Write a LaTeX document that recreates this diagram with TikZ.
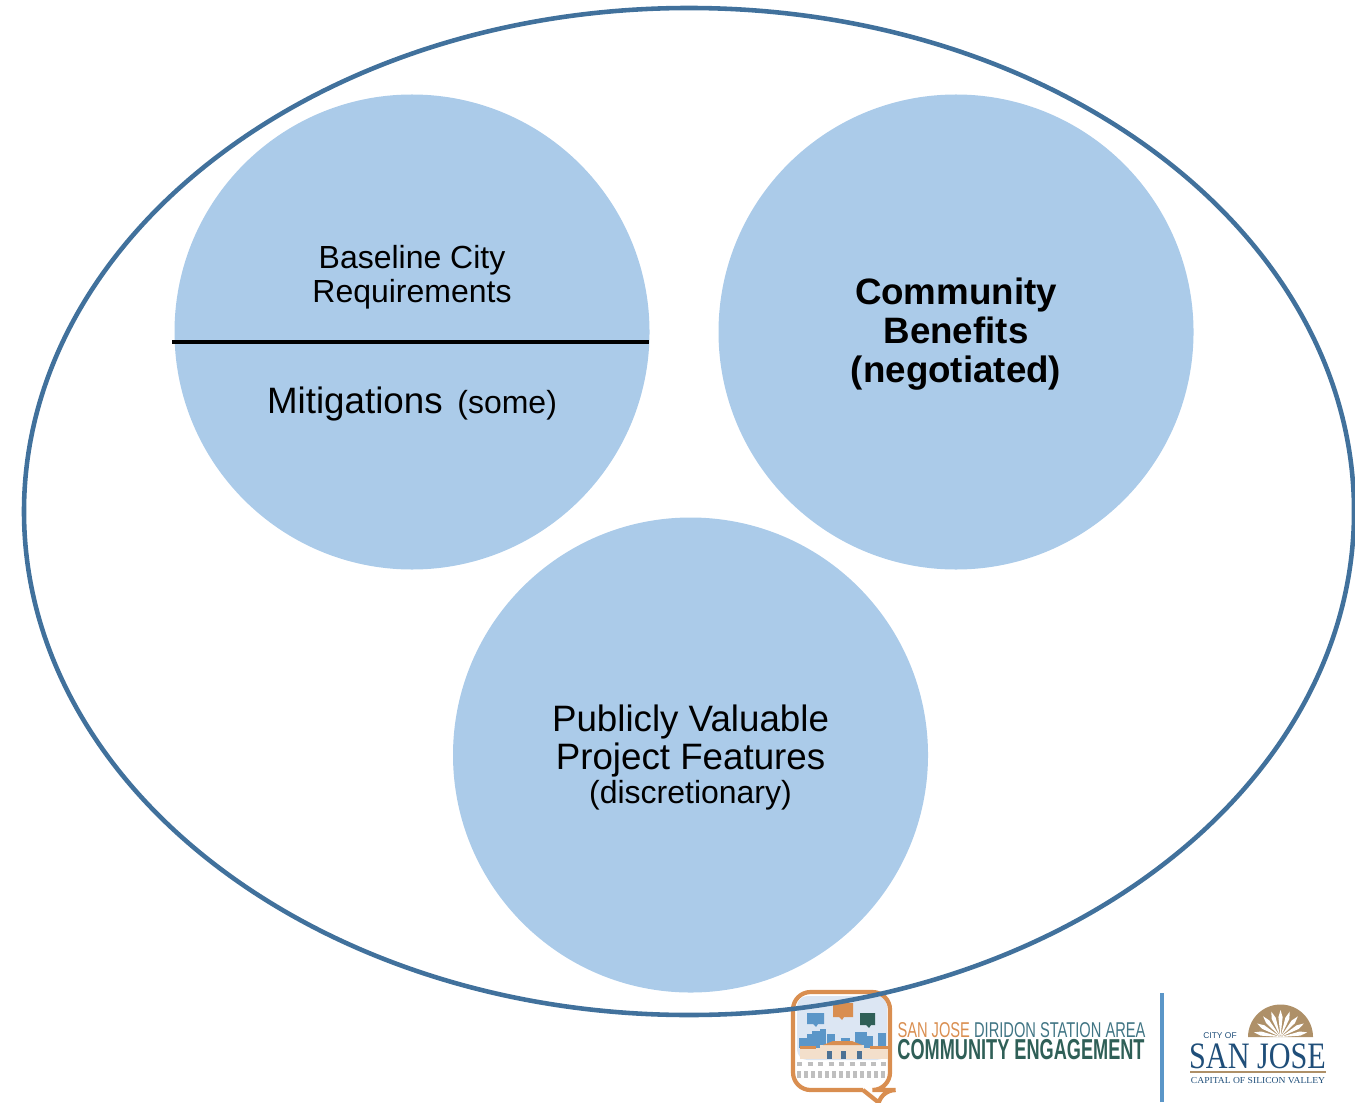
\documentclass[tikz,border=0pt]{standalone}
\usepackage{fontspec}
\setmainfont{Liberation Sans}
\newfontfamily\serifpart{Liberation Serif}
\usetikzlibrary{positioning}
\definecolor{ringblue}{HTML}{41719C}
\definecolor{discblue}{HTML}{ABCBE9}
\definecolor{logoorange}{HTML}{D98E50}
\definecolor{logosky}{HTML}{DCE6F3}
\definecolor{logocream}{HTML}{F3DFCB}
\definecolor{logoblue}{HTML}{5B96C8}
\definecolor{logogreen}{HTML}{2F5F57}
\definecolor{logotan}{HTML}{AE9068}
\definecolor{logonavy}{HTML}{1F4E79}
\tikzset{
  disc/.style={circle,fill=discblue,minimum size=4.75cm,inner sep=0pt},
  small/.style={font=\fontsize{9.1}{9.67}\selectfont,align=center},
  large/.style={font=\fontsize{10.45}{10.9}\selectfont,align=center},
  heavy/.style={font=\fontsize{10.45}{11.1}\selectfont\bfseries,align=center},
  narrow/.style={transform shape,inner sep=0pt,xscale=#1},
}
\begin{document}
\begin{tikzpicture}
\useasboundingbox (0,0) rectangle (13.55,11.02);
% logo, left part
\fill[logosky,rounded corners=3pt] (7.97,0.42) rectangle (8.87,1.06);
\draw[logoorange,line width=1.2pt,rounded corners=5pt] (8.63,0.12) -- (7.93,0.12) -- (7.93,1.10) -- (8.90,1.10) -- (8.90,0.12) -- (8.78,0.12) [sharp corners] -- (8.78,0.0) -- (8.63,0.12);
\foreach \x/\y/\w/\h/\c in {8.07/.78/.17/.11/logoblue,8.33/.85/.20/.14/logoorange,8.60/.77/.15/.12/logogreen}
\fill[\c] (\x,\y) rectangle ++(\w,\h) (\x+.06,\y) -- ++(.05,0) -- ++(-.02,-.03) -- cycle;
\foreach \x/\w/\h in {7.99/.10/.10,8.07/.05/.14,8.12/.08/.17,8.20/.06/.19,8.27/.08/.14,8.41/.09/.10,8.55/.12/.16,8.67/.06/.12,8.78/.08/.15}
\fill[logoblue] (\x,0.54) rectangle ++(\w,\h);
\fill[logocream] (8.0,0.43) rectangle (8.88,0.54);
\fill[logocream] (8.20,0.54) rectangle (8.64,0.57);
\fill[logoorange] (8.23,0.57) -- (8.33,0.61) -- (8.52,0.61) -- (8.62,0.57) -- cycle;
\fill[logoorange] (8.0,0.53) rectangle (8.16,0.56);
\fill[logoorange] (8.70,0.53) rectangle (8.88,0.56);
\foreach \x in {8.27,8.41,8.57}
\fill[logonavy!80] (\x,0.43) rectangle ++(.05,.08);
\foreach \y/\d in {0.38/1.5pt,0.29/1pt,0.26/1pt}
\draw[gray!50,line width=1pt,dash pattern=on \d off \d] (7.97,\y) -- (8.86,\y);
% logo, lettering
\node[narrow=0.684,anchor=west,text=logoorange,font=\fontsize{6.1}{7}\selectfont] (areaname) at (8.97,0.72) {SAN JOSE \textcolor{logogreen!60!logoblue}{DIRIDON STATION AREA}};
\node[narrow=0.63,anchor=west,text=logogreen,font=\fontsize{8.2}{9}\selectfont\bfseries] (engagement) at (8.97,0.52) {COMMUNITY ENGAGEMENT};
\draw[logoblue,line width=.9pt] (11.62,0) -- (11.62,1.09);
% logo, right part
\fill[logotan] (12.48,0.65) arc (180:0:0.325) -- cycle;
\foreach \a in {10,30,...,170}
\fill[white,shift={(12.805,0.65)}] (0,0) -- (\a-6:0.2) -- (\a:0.27) -- (\a+6:0.2) -- cycle;
\node[narrow=1,text=logonavy,font=\fontsize{2.4}{3}\selectfont] (cityof) at (12.20,0.66) {CITY OF};
\node[narrow=0.81,text=logonavy,font=\fontsize{10.6}{11}\serifpart] (sanjose) at (12.575,0.46) {SAN JOSE};
\draw[logotan,line width=.6pt] (11.90,0.30) -- (13.26,0.30);
\node[narrow=1.05,text=logonavy,font=\fontsize{2.6}{3}\serifpart] (capital) at (12.58,0.21) {CAPITAL OF SILICON VALLEY};
% outer ring and the three discs
\draw[ringblue,line width=1.3pt] (6.89,5.905) ellipse (6.65 and 5.035);
\node[disc] (left) at (4.12,7.70) {};
\node[disc] (right) at (9.56,7.70) {};
\node[disc] (bottom) at (6.905,3.47) {};
\coordinate (cutl) at (1.72,7.60);
\coordinate (cutr) at (6.49,7.60);
\draw[line width=1.15pt] (cutl) -- (cutr);
\node[small] (baseline) at (4.12,8.25) {Baseline City\\Requirements};
\node[font=\fontsize{10.45}{11}\selectfont] (mitigations) at (4.12,6.98) {Mitigations\hspace{4.2pt}\fontsize{9.1}{11}\selectfont(some)};
\node[heavy] (benefits) at (9.56,7.68) {Community\\Benefits\\(negotiated)};
\node[large] (features) at (6.905,3.61) {Publicly Valuable\\Project Features};
\node[small,below=-6.3pt of features] (discretionary) {(discretionary)};
\end{tikzpicture}
\end{document}
